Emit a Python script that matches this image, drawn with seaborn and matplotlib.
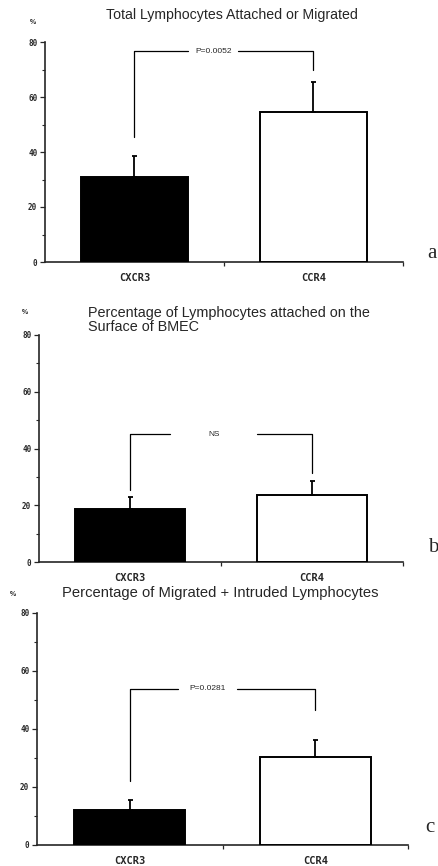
import matplotlib
matplotlib.use("Agg")
import matplotlib.pyplot as plt
import seaborn as sns
import numpy as np

# Lymphocyte adhesion / migration across BMEC, by chemokine receptor group
categories = ["CXCR3", "CCR4"]

total_mean = [30.9, 54.5]
total_err = [7.6, 11.0]

attached_mean = [18.7, 23.6]
attached_err = [4.2, 4.9]

migrated_mean = [12.1, 30.3]
migrated_err = [3.4, 5.9]

# significance brackets: (bracket height, left leg end, right leg end, label)
total_bracket = (76.7, 45.5, 70.0, "P=0.0052")
attached_bracket = (45.1, 25.4, 31.4, "NS")
migrated_bracket = (53.8, 22.0, 46.5, "P=0.0281")

y_ticks = [0, 20, 40, 60, 80]

sns.set_theme(style="ticks")
plt.rcParams["font.family"] = ["Liberation Sans", "DejaVu Sans"]

fig = plt.figure(figsize=(4.39, 8.66), dpi=100)
W, H = 439.0, 866.0


def axes_px(left, top, right, bottom):
    return fig.add_axes([left / W, 1 - bottom / H, (right - left) / W, (bottom - top) / H])


def panel(ax, means, errs, bracket, gap):
    sns.barplot(x=categories, y=means, hue=categories, palette=["black", "white"],
                edgecolor="black", linewidth=1.4, width=0.6, errorbar=None,
                legend=False, ax=ax, zorder=3)
    xs = np.arange(len(categories))
    ax.errorbar(xs, means, yerr=[np.zeros(len(means)), errs], fmt="none",
                ecolor="black", elinewidth=1.3, capsize=1.8, capthick=1.3, zorder=4)
    ax.set_xlim(-0.5, 1.5)
    ax.set_ylim(0, 80)
    ax.set_yticks(y_ticks)
    ax.set_yticks([10, 30, 50, 70], minor=True)
    ax.set_xticks(xs)
    ax.set_xticks([0.5, 1.5], minor=True)
    ax.set_xticklabels(categories, family="DejaVu Sans Mono", weight="bold", fontsize=7.5)
    ax.set_yticklabels([str(t) for t in y_ticks], family="DejaVu Sans Mono",
                       weight="bold", fontsize=5.5)
    ax.tick_params(axis="x", which="major", length=0, pad=8)
    ax.tick_params(axis="x", which="minor", length=3, width=0.9, direction="out")
    ax.tick_params(axis="y", which="major", length=3.5, width=0.9, pad=2)
    ax.tick_params(axis="y", which="minor", length=2, width=0.8)
    for s in ["top", "right"]:
        ax.spines[s].set_visible(False)
    ax.spines["left"].set_linewidth(1.2)
    ax.spines["bottom"].set_linewidth(1.2)
    ax.set_xlabel("")
    ax.set_ylabel("")
    ax.set_facecolor("white")

    h, l_end, r_end, label = bracket
    g0, g1 = gap
    ax.plot([0, 0, g0], [l_end, h, h], color="black", lw=0.9, zorder=2)
    ax.plot([g1, 1, 1], [h, h, r_end], color="black", lw=0.9, zorder=2)
    ax.text((g0 + g1) / 2, h, label, ha="center", va="center", fontsize=6)


# panel a
ax_a = axes_px(45, 42, 403, 262)
panel(ax_a, total_mean, total_err, total_bracket, (0.30, 0.58))
fig.text(232 / W, 1 - 15 / H, "Total Lymphocytes Attached or Migrated",
         ha="center", va="center", fontsize=10.2)
fig.text(33 / W, 1 - 22 / H, "%", ha="center", va="center", fontsize=5, weight="bold")
fig.text(432 / W, 1 - 253 / H, "a", ha="center", va="center", fontsize=15,
         family="Liberation Serif")

# panel b
ax_b = axes_px(39, 335, 403, 562)
panel(ax_b, attached_mean, attached_err, attached_bracket, (0.22, 0.70))
fig.text(88 / W, 1 - 320 / H, "Percentage of Lymphocytes attached on the\nSurface of BMEC",
         ha="left", va="center", fontsize=10.4, linespacing=0.92)
fig.text(25 / W, 1 - 313 / H, "%", ha="center", va="center", fontsize=5, weight="bold")
fig.text(433 / W, 1 - 547 / H, "b", ha="center", va="center", fontsize=15,
         family="Liberation Serif")

# panel c
ax_c = axes_px(37, 613, 408, 845)
panel(ax_c, migrated_mean, migrated_err, migrated_bracket, (0.26, 0.58))
fig.text(220 / W, 1 - 593 / H, "Percentage of Migrated + Intruded Lymphocytes",
         ha="center", va="center", fontsize=10.6)
fig.text(13 / W, 1 - 595 / H, "%", ha="center", va="center", fontsize=5, weight="bold")
fig.text(430 / W, 1 - 828 / H, "c", ha="center", va="center", fontsize=15,
         family="Liberation Serif")

fig.savefig("out.png", dpi=100, facecolor="white")
